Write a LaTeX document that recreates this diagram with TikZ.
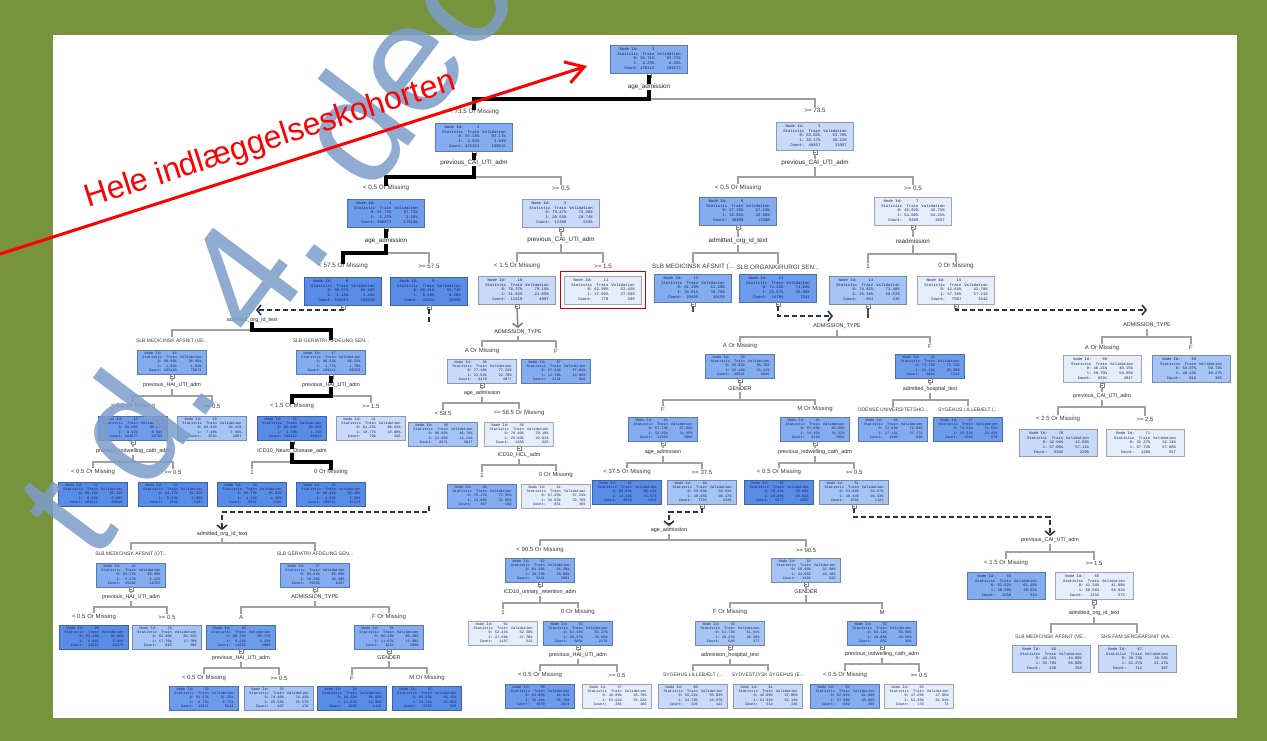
\documentclass[tikz,border=0pt]{standalone}
\usepackage{fontspec}
\setmainfont{Liberation Sans}
\setmonofont{Liberation Mono}
\usetikzlibrary{arrows.meta}
\definecolor{framegreen}{RGB}{119,147,60}
\definecolor{c1}{RGB}{88,140,230}
\definecolor{c2}{RGB}{110,156,236}
\definecolor{c3}{RGB}{132,172,240}
\definecolor{c4}{RGB}{166,196,244}
\definecolor{c5}{RGB}{200,218,248}
\definecolor{c6}{RGB}{230,237,250}
\definecolor{navytext}{RGB}{20,30,90}
\definecolor{edgegray}{RGB}{160,160,160}
\definecolor{labgray}{RGB}{60,60,60}
\definecolor{wmblue}{RGB}{125,157,202}
\definecolor{tipdark}{RGB}{40,50,75}
\newcommand{\nt}[7]{\begin{tabular}{@{}r@{\hspace{2pt}}r@{\hspace{3pt}}r@{}}Node Id:&#1&\\Statistic&Train&Validation\\0:&#2\%&#3\%\\1:&#4\%&#5\%\\Count:&#6&#7\end{tabular}}
\tikzset{
  tb/.style={fill=#1, draw=#1!70!black, line width=0.5pt, inner sep=1pt, text=navytext},
  bb/.style={tb=#1, minimum width=77pt, minimum height=28pt, font=\ttfamily\fontsize{3.9}{4.8}\selectfont},
  sb/.style={tb=#1, minimum width=69pt, minimum height=24pt, font=\ttfamily\fontsize{3.6}{4.4}\selectfont},
  mb/.style={tb=#1, minimum width=78pt, minimum height=27pt, font=\ttfamily\fontsize{3.8}{4.7}\selectfont},
  vl/.style={font=\fontsize{6.3}{7}\selectfont, text=black!85, inner sep=1.2pt},
  vls/.style={font=\fontsize{5.4}{6}\selectfont, text=black!85, inner sep=1.2pt},
  el/.style={font=\fontsize{6.3}{7}\selectfont, text=labgray, inner sep=1pt},
  els/.style={font=\fontsize{6}{7}\selectfont, text=labgray, inner sep=1pt},
  elu/.style={font=\fontsize{5}{6}\selectfont, text=labgray, inner sep=1pt},
  ge/.style={draw=edgegray, line width=1.5pt},
  tk/.style={draw=black, line width=3.6pt, line cap=rect},
  icon/.style={draw=gray, fill=white, line width=0.4pt, minimum size=4pt, inner sep=0pt, outer sep=0pt,
    path picture={\draw[gray, line width=0.4pt] ([xshift=0.8pt]path picture bounding box.west) -- ([xshift=-0.8pt]path picture bounding box.east);}},
  dsh/.style={draw=black!85, line width=1.5pt, dash pattern=on 5pt off 3pt},
  chev/.style={-{Straight Barb[length=4pt,width=10pt,line width=1.6pt]}},
  wm/.style={text=wmblue, text opacity=0.85, font=\fontsize{155}{155}\selectfont, inner sep=0pt},
}
\newcommand{\vlink}[2]{\node[icon,anchor=north] (i#1) at (n#1.south) {}; \draw[#2] (i#1) -- (v#1);}
\newcommand{\tsplit}[7]{%
  \coordinate (j#1) at (v#1.south |- 0,#2);
  \draw[#7] (j#1) -| (e#4);
  \draw[#6] (j#1) -| (e#3);
  \draw[#5] (v#1) -- (j#1);}
\begin{document}
\begin{tikzpicture}[x=1pt,y=-1pt]
\useasboundingbox (0,0) rectangle (1267,741);
\fill[framegreen] (0,0) rectangle (1267,741);
\fill[white] (53,35) rectangle (1237,718);

% ---------- boxes ----------
\node[bb=c3] (n1) at (649,59) {\nt{1}{93.71}{93.72}{6.29}{6.28}{470118}{201573}};
\node[bb=c3] (n2) at (474,137) {\nt{2}{97.18}{97.17}{2.82}{2.83}{421261}{180516}};
\node[bb=c5] (n3) at (815,136) {\nt{3}{63.83}{63.78}{36.17}{36.22}{48857}{21057}};
\node[bb=c2] (n4) at (386,213) {\nt{4}{97.73}{97.72}{2.27}{2.28}{408873}{175180}};
\node[bb=c5] (n5) at (561,213) {\nt{5}{79.47}{79.26}{20.53}{20.74}{12388}{5336}};
\node[bb=c3] (n6) at (738,211) {\nt{6}{67.15}{67.10}{32.85}{32.90}{40389}{17400}};
\node[bb=c6] (n7) at (913,211) {\nt{7}{45.92}{45.75}{54.08}{54.25}{8468}{3657}};
\node[bb=c1] (n8) at (343,291) {\nt{8}{98.57}{98.56}{1.43}{1.44}{364621}{156230}};
\node[bb=c1] (n9) at (429,291) {\nt{9}{90.81}{90.74}{9.19}{9.26}{44252}{18950}};
\node[bb=c5] (n10) at (517,290) {\nt{10}{78.37}{78.15}{21.63}{21.85}{11610}{4997}};
\node[bb=c6] (n11) at (603,290) {\nt{11}{62.98}{62.42}{37.02}{37.58}{778}{339}};
\node[bb=c3] (n12) at (693,288) {\nt{12}{61.19}{61.30}{38.81}{38.70}{23605}{10159}};
\node[bb=c2] (n13) at (778,288) {\nt{13}{74.43}{74.05}{25.57}{25.95}{16784}{7241}};
\node[bb=c4] (n14) at (868,290) {\nt{14}{74.82}{73.48}{25.18}{26.52}{961}{415}};
\node[bb=c6] (n15) at (956,290) {\nt{15}{42.64}{42.79}{57.36}{57.21}{7507}{3242}};
\node[sb=c3] (n16) at (172,362) {\nt{16}{98.98}{98.96}{1.02}{1.04}{165410}{70872}};
\node[sb=c3] (n17) at (331,362) {\nt{17}{98.23}{98.22}{1.77}{1.78}{199211}{85358}};
\node[sb=c2] (n18) at (133,428) {\nt{18}{99.08}{99.06}{0.92}{0.94}{162877}{69785}};
\node[sb=c4] (n19) at (212,428) {\nt{19}{92.52}{92.32}{7.48}{7.68}{2533}{1087}};
\node[sb=c1] (n20) at (292,428) {\nt{20}{98.30}{98.29}{1.70}{1.71}{198412}{85012}};
\node[sb=c5] (n21) at (371,428) {\nt{21}{81.23}{80.92}{18.77}{19.08}{799}{346}};
\node[sb=c1] (n22) at (93,494) {\nt{22}{99.16}{99.14}{0.84}{0.86}{160211}{68648}};
\node[sb=c1] (n23) at (173,494) {\nt{23}{94.17}{94.02}{5.83}{5.98}{2666}{1137}};
\node[sb=c1] (n24) at (252,494) {\nt{24}{95.77}{95.64}{4.23}{4.36}{8251}{3536}};
\node[sb=c1] (n25) at (331,494) {\nt{25}{98.41}{98.40}{1.59}{1.60}{190161}{81476}};
\node[sb=c3] (n26) at (131,575) {\nt{26}{93.73}{93.58}{6.27}{6.42}{25102}{10763}};
\node[sb=c3] (n27) at (315,575) {\nt{27}{89.64}{89.60}{10.36}{10.40}{19150}{8187}};
\node[sb=c1] (n28) at (94,637) {\nt{28}{94.16}{94.02}{5.84}{5.98}{24187}{10375}};
\node[sb=c4] (n29) at (167,637) {\nt{29}{82.30}{82.22}{17.70}{17.78}{915}{388}};
\node[sb=c2] (n30) at (241,637) {\nt{30}{90.79}{90.77}{9.21}{9.23}{14228}{6089}};
\node[sb=c3] (n31) at (389,637) {\nt{31}{86.33}{86.20}{13.67}{13.80}{4922}{2098}};
\node[sb=c2] (n32) at (204,698) {\nt{32}{91.27}{91.25}{8.73}{8.75}{13821}{5913}};
\node[sb=c4] (n33) at (279,698) {\nt{33}{74.45}{74.43}{25.55}{25.57}{407}{176}};
\node[sb=c1] (n34) at (352,698) {\nt{34}{88.16}{88.02}{11.84}{11.98}{2593}{1110}};
\node[sb=c1] (n35) at (427,698) {\nt{35}{84.29}{84.15}{15.71}{15.85}{2329}{988}};
\node[sb=c5] (n36) at (482,371) {\nt{36}{77.48}{77.21}{22.52}{22.79}{9479}{4077}};
\node[sb=c3] (n37) at (556,371) {\nt{37}{87.24}{87.04}{12.76}{12.96}{2131}{920}};
\node[sb=c4] (n38) at (443,434) {\nt{38}{86.02}{85.79}{13.98}{14.21}{8271}{3547}};
\node[sb=c6] (n39) at (519,434) {\nt{39}{70.40}{70.19}{29.60}{29.81}{1208}{520}};
\node[sb=c3] (n40) at (482,496) {\nt{40}{78.17}{77.95}{21.83}{22.05}{357}{154}};
\node[sb=c6] (n41) at (556,496) {\nt{41}{67.45}{67.24}{32.55}{32.76}{851}{366}};
\node[sb=c3] (n42) at (740,366) {\nt{42}{66.82}{66.78}{33.18}{33.22}{20521}{8846}};
\node[sb=c2] (n43) at (930,366) {\nt{43}{73.78}{73.72}{26.22}{26.28}{3084}{1314}};
\node[sb=c3] (n44) at (663,429) {\nt{44}{67.74}{67.65}{32.26}{32.35}{11352}{4890}};
\node[sb=c3] (n45) at (815,429) {\nt{45}{65.65}{65.68}{34.35}{34.32}{9169}{3956}};
\node[sb=c3] (n46) at (893,429) {\nt{46}{72.89}{72.83}{27.11}{27.17}{1490}{636}};
\node[sb=c2] (n47) at (968,429) {\nt{47}{74.61}{74.55}{25.39}{25.45}{1594}{678}};
\node[sb=c1] (n48) at (627,492) {\nt{48}{85.66}{85.43}{14.34}{14.57}{3619}{1554}};
\node[sb=c4] (n49) at (702,492) {\nt{49}{59.55}{59.53}{40.45}{40.47}{7733}{3336}};
\node[sb=c1] (n50) at (779,492) {\nt{50}{70.15}{70.09}{29.85}{29.91}{6577}{2835}};
\node[sb=c4] (n51) at (854,492) {\nt{51}{53.56}{53.67}{46.44}{46.33}{2592}{1121}};
\node[sb=c3] (n52) at (540,570) {\nt{52}{61.28}{61.20}{38.72}{38.80}{6241}{2691}};
\node[sb=c4] (n53) at (806,570) {\nt{53}{55.95}{55.90}{44.05}{44.10}{1492}{645}};
\node[sb=c6] (n54) at (503,633) {\nt{54}{52.41}{52.30}{47.59}{47.70}{1187}{512}};
\node[sb=c3] (n55) at (578,633) {\nt{55}{63.43}{63.37}{36.57}{36.63}{5054}{2179}};
\node[sb=c2] (n56) at (540,696) {\nt{56}{64.86}{64.81}{35.14}{35.19}{4670}{2013}};
\node[sb=c6] (n57) at (617,696) {\nt{57}{46.09}{45.78}{53.91}{54.22}{384}{166}};
\node[sb=c4] (n58) at (730,633) {\nt{58}{51.73}{51.64}{48.27}{48.36}{640}{277}};
\node[sb=c3] (n59) at (882,633) {\nt{59}{59.12}{59.08}{40.88}{40.92}{852}{368}};
\node[sb=c5] (n60) at (693,696) {\nt{60}{55.21}{55.03}{44.79}{44.97}{326}{141}};
\node[sb=c5] (n61) at (768,696) {\nt{61}{48.09}{47.86}{51.91}{52.14}{314}{136}};
\node[sb=c3] (n62) at (845,696) {\nt{62}{62.02}{61.98}{37.98}{38.02}{682}{295}};
\node[sb=c6] (n63) at (919,696) {\nt{63}{47.65}{47.06}{52.35}{52.94}{170}{73}};
\node[mb=c3] (n64) at (1006,586) {\nt{64}{61.62}{61.48}{38.38}{38.52}{1260}{543}};
\node[mb=c6] (n65) at (1094,586) {\nt{65}{41.34}{41.09}{58.66}{58.91}{1332}{575}};
\node[mb=c5] (n66) at (1051,659) {\nt{66}{44.21}{44.00}{55.79}{56.00}{620}{268}};
\node[mb=c5] (n67) at (1137,659) {\nt{67}{38.73}{38.53}{61.27}{61.47}{712}{307}};
\node[mb=c6] (n68) at (1102,369) {\nt{68}{40.21}{40.15}{59.79}{59.85}{6591}{2847}};
\node[mb=c4] (n69) at (1191,369) {\nt{69}{59.87}{59.73}{40.13}{40.27}{916}{395}};
\node[mb=c5] (n70) at (1058,443) {\nt{70}{42.94}{42.89}{57.06}{57.11}{5302}{2290}};
\node[mb=c6] (n71) at (1145,443) {\nt{71}{32.27}{32.14}{67.73}{67.86}{1289}{557}};

% ---------- variable labels ----------
\node[vl] (v1) at (649,87) {age\_admission};
\node[vl] (v2) at (474,163) {previous\_CAI\_UTI\_adm};
\node[vl] (v3) at (815,163) {previous\_CAI\_UTI\_adm};
\node[vl] (v4) at (386,241) {age\_admission};
\node[vl] (v5) at (561,240) {previous\_CAI\_UTI\_adm};
\node[vl] (v6) at (738,241) {admitted\_org\_id\_text};
\node[vl] (v7) at (913,241) {readmission};
\node[vls] (vA) at (252,320) {admitted\_org\_id\_text};
\node[vls] (v16) at (172,385) {previous\_HAI\_UTI\_adm};
\node[vls] (v17) at (331,385) {previous\_HAI\_UTI\_adm};
\node[vls] (v18) at (133,451) {previous\_indwelling\_cath\_adm};
\node[vls] (v20) at (292,451) {ICD10\_Neuro\_Disease\_adm};
\node[vls] (vB) at (222,534) {admitted\_org\_id\_text};
\node[vls] (v26) at (131,597) {previous\_HAI\_UTI\_adm};
\node[vls] (v27) at (315,597) {ADMISSION\_TYPE};
\node[vls] (v30) at (241,658) {previous\_HAI\_UTI\_adm};
\node[vls] (v31) at (389,658) {GENDER};
\node[vls] (vC) at (518,332) {ADMISSION\_TYPE};
\node[vls] (v36) at (482,393) {age\_admission};
\node[vls] (v39) at (519,455) {ICD10\_HCL\_adm};
\node[vls] (vD) at (837,326) {ADMISSION\_TYPE};
\node[vls] (v42) at (740,389) {GENDER};
\node[vls] (v43) at (930,389) {admitted\_hospital\_text};
\node[vls] (v44) at (663,452) {age\_admission};
\node[vls] (v45) at (815,452) {previous\_indwelling\_cath\_adm};
\node[vls] (vE) at (669,530) {age\_admission};
\node[vls] (v52) at (540,592) {ICD10\_urinary\_retention\_adm};
\node[vls] (v53) at (806,592) {GENDER};
\node[vls] (v55) at (578,655) {previous\_HAI\_UTI\_adm};
\node[vls] (v58) at (730,655) {admission\_hospital\_text};
\node[vls] (v59) at (882,654) {previous\_indwelling\_cath\_adm};
\node[vls] (vF) at (1050,540) {previous\_CAI\_UTI\_adm};
\node[vls] (v65) at (1094,613) {admitted\_org\_id\_text};
\node[vls] (vG) at (1147,325) {ADMISSION\_TYPE};
\node[vls] (v68) at (1102,396) {previous\_CAI\_UTI\_adm};

% ---------- edge labels ----------
\node[el] (e2) at (474,112) {< 73.5 Or Missing};
\node[el] (e3) at (815,110) {>= 73.5};
\node[el] (e4) at (386,188) {< 0.5 Or Missing};
\node[el] (e5) at (561,188) {>= 0.5};
\node[el] (e6) at (738,188) {< 0.5 Or Missing};
\node[el] (e7) at (913,188) {>= 0.5};
\node[el] (e8) at (343,266) {< 57.5 Or Missing};
\node[el] (e9) at (429,266) {>= 57.5};
\node[el] (e10) at (517,266) {< 1.5 Or Missing};
\node[el] (e11) at (603,266) {>= 1.5};
\node[el] (e12) at (693,267) {SLB MEDICINSK AFSNIT (...};
\node[el] (e13) at (778,267) {SLB ORGANKIRURGI SEN...};
\node[el] (e14) at (868,266) {1};
\node[el] (e15) at (956,266) {0 Or Missing};
\node[elu] (e16) at (172,341) {SLB MEDICINSK AFSNIT (UE...};
\node[elu] (e17) at (331,341) {SLB GERIATRI AFDELING SEN...};
\node[els] (e18) at (133,406) {< 0.5 Or Missing};
\node[els] (e19) at (212,406) {>= 0.5};
\node[els] (e20) at (292,406) {< 1.5 Or Missing};
\node[els] (e21) at (371,406) {>= 1.5};
\node[els] (e22) at (93,472) {< 0.5 Or Missing};
\node[els] (e23) at (173,472) {>= 0.5};
\node[els] (e24) at (252,472) {1};
\node[els] (e25) at (331,472) {0 Or Missing};
\node[elu] (e26) at (131,554) {SLB MEDICINSK AFSNIT (OT...};
\node[elu] (e27) at (315,554) {SLB GERIATRI AFDELING SEN...};
\node[els] (e28) at (94,617) {< 0.5 Or Missing};
\node[els] (e29) at (167,617) {>= 0.5};
\node[els] (e30) at (241,617) {A};
\node[els] (e31) at (389,617) {F Or Missing};
\node[els] (e32) at (204,678) {< 0.5 Or Missing};
\node[els] (e33) at (279,678) {>= 0.5};
\node[els] (e34) at (352,678) {F};
\node[els] (e35) at (427,678) {M Or Missing};
\node[els] (e36) at (482,351) {A Or Missing};
\node[els] (e37) at (556,351) {F};
\node[els] (e38) at (443,413) {< 58.5};
\node[els] (e39) at (519,413) {>= 58.5 Or Missing};
\node[els] (e40) at (482,475) {1};
\node[els] (e41) at (556,475) {0 Or Missing};
\node[els] (e42) at (740,346) {A Or Missing};
\node[els] (e43) at (930,346) {F};
\node[els] (e44) at (663,409) {F};
\node[els] (e45) at (815,409) {M Or Missing};
\node[elu] (e46) at (893,410) {ODENSE UNIVERSITETSHO...};
\node[elu] (e47) at (968,410) {SYGEHUS LILLEBÆLT (...};
\node[els] (e48) at (627,472) {< 37.5 Or Missing};
\node[els] (e49) at (702,472) {>= 37.5};
\node[els] (e50) at (779,472) {< 0.5 Or Missing};
\node[els] (e51) at (854,472) {>= 0.5};
\node[els] (e52) at (540,550) {< 90.5 Or Missing};
\node[els] (e53) at (806,550) {>= 90.5};
\node[els] (e54) at (503,612) {1};
\node[els] (e55) at (578,612) {0 Or Missing};
\node[els] (e56) at (540,675) {< 0.5 Or Missing};
\node[els] (e57) at (617,675) {>= 0.5};
\node[els] (e58) at (730,612) {F Or Missing};
\node[els] (e59) at (882,612) {M};
\node[elu] (e60) at (693,675) {SYGEHUS LILLEBÆLT (...};
\node[elu] (e61) at (768,675) {SYDVESTJYSK SYGEHUS (E...};
\node[els] (e62) at (845,675) {< 0.5 Or Missing};
\node[els] (e63) at (919,675) {>= 0.5};
\node[els] (e64) at (1006,563) {< 1.5 Or Missing};
\node[els] (e65) at (1094,563) {>= 1.5};
\node[elu] (e66) at (1051,637) {SLB MEDICINSK AFSNIT (VE...};
\node[elu] (e67) at (1137,637) {SHS FAM.SENGEAFSNIT (AA...};
\node[els] (e68) at (1102,348) {A Or Missing};
\node[els] (e69) at (1191,347) {F};
\node[els] (e70) at (1058,419) {< 2.5 Or Missing};
\node[els] (e71) at (1145,419) {>= 2.5};

% ---------- box to variable label ----------
\vlink{1}{tk} \vlink{2}{tk} \vlink{3}{ge} \vlink{4}{tk} \vlink{5}{ge}
\vlink{6}{ge} \vlink{7}{ge} \vlink{16}{ge} \vlink{17}{tk} \vlink{18}{ge}
\vlink{20}{tk} \vlink{26}{ge} \vlink{27}{ge} \vlink{30}{ge} \vlink{31}{ge}
\vlink{36}{ge} \vlink{39}{ge} \vlink{42}{ge} \vlink{43}{ge} \vlink{44}{ge}
\vlink{45}{ge} \vlink{52}{ge} \vlink{53}{ge} \vlink{55}{ge} \vlink{58}{ge}
\vlink{59}{ge} \vlink{65}{ge} \vlink{68}{ge}

% ---------- splits ----------
\tsplit{1}{99}{2}{3}{tk}{tk}{ge}
\tsplit{2}{177}{4}{5}{tk}{tk}{ge}
\tsplit{3}{177}{6}{7}{ge}{ge}{ge}
\tsplit{4}{253}{8}{9}{tk}{tk}{ge}
\tsplit{5}{253}{10}{11}{ge}{ge}{ge}
\tsplit{6}{253}{12}{13}{ge}{ge}{ge}
\tsplit{7}{254}{14}{15}{ge}{ge}{ge}
\tsplit{A}{330}{16}{17}{tk}{ge}{tk}
\tsplit{16}{396}{18}{19}{ge}{ge}{ge}
\tsplit{17}{396}{20}{21}{tk}{tk}{ge}
\tsplit{18}{462}{22}{23}{ge}{ge}{ge}
\tsplit{20}{462}{24}{25}{tk}{ge}{tk}
\tsplit{B}{543}{26}{27}{ge}{ge}{ge}
\tsplit{26}{607}{28}{29}{ge}{ge}{ge}
\tsplit{27}{607}{30}{31}{ge}{ge}{ge}
\tsplit{30}{668}{32}{33}{ge}{ge}{ge}
\tsplit{31}{668}{34}{35}{ge}{ge}{ge}
\tsplit{C}{341}{36}{37}{ge}{ge}{ge}
\tsplit{36}{403}{38}{39}{ge}{ge}{ge}
\tsplit{39}{465}{40}{41}{ge}{ge}{ge}
\tsplit{D}{337}{42}{43}{ge}{ge}{ge}
\tsplit{42}{400}{44}{45}{ge}{ge}{ge}
\tsplit{43}{400}{46}{47}{ge}{ge}{ge}
\tsplit{44}{463}{48}{49}{ge}{ge}{ge}
\tsplit{45}{463}{50}{51}{ge}{ge}{ge}
\tsplit{E}{540}{52}{53}{ge}{ge}{ge}
\tsplit{52}{603}{54}{55}{ge}{ge}{ge}
\tsplit{53}{603}{58}{59}{ge}{ge}{ge}
\tsplit{55}{665}{56}{57}{ge}{ge}{ge}
\tsplit{58}{665}{60}{61}{ge}{ge}{ge}
\tsplit{59}{664}{62}{63}{ge}{ge}{ge}
\tsplit{F}{552}{64}{65}{ge}{ge}{ge}
\tsplit{65}{624}{66}{67}{ge}{ge}{ge}
\tsplit{G}{337}{68}{69}{ge}{ge}{ge}
\tsplit{68}{407}{70}{71}{ge}{ge}{ge}

% ---------- collapsed branches (dashed) ----------
\foreach \k in {8,9,10,12,13,14,15,49,51} {\node[icon,anchor=north] (i\k) at (n\k.south) {};}
\coordinate (tA) at (256,310);
\draw[dsh, draw=tipdark, chev] (i8) |- (tA);
\coordinate (b9a) at (429,322);
\coordinate (b9b) at (429,506);
\draw[dsh] (i9) -- (b9a);
\draw[dsh, draw=tipdark, chev] (b9b) -- (b9b |- 0,512) -| (vB.north);
\draw[ge, draw=gray, chev] (i10) -- (vC);
\coordinate (s12) at (693,312);
\draw[line width=1.2pt, draw=black!70] (i12) -- (s12);
\coordinate (s14) at (868,318);
\draw[line width=1.4pt, draw=black!70] (i14) -- (s14);
\coordinate (tD) at (833,316);
\draw[dsh, draw=tipdark, chev] (i13) |- (tD);
\coordinate (tG) at (1147,310);
\draw[dsh, draw=tipdark, chev] (i15) |- (tG);
\draw[dsh, draw=tipdark, chev] (i49) |- (vE.north |- 0,512) -- (vE.north);
\draw[dsh, draw=tipdark, chev] (i51) |- (vF.north |- 0,517) -- (vF.north);

% ---------- highlight of node 11 ----------
\draw[draw=red!80!black, line width=1.4pt] ([shift={(-4,-4)}]n11.north west) rectangle ([shift={(4,4)}]n11.south east);

% ---------- watermark ----------
\node[wm, rotate=53, anchor=base west] (wmk) at (94,564) {t d. 4. dec};

% ---------- red annotation ----------
\coordinate (ra) at (0,254);
\coordinate (rb) at (587,66);
\draw[red, line width=3pt, -{Straight Barb[length=18pt,width=22pt,line width=3pt]}] (ra) -- (rb);
\node[text=red, rotate=17.8, anchor=base west, inner sep=0pt, font=\fontsize{32}{32}\selectfont] (hele) at (88,208) {Hele indlæggelseskohorten};
\end{tikzpicture}
\end{document}
